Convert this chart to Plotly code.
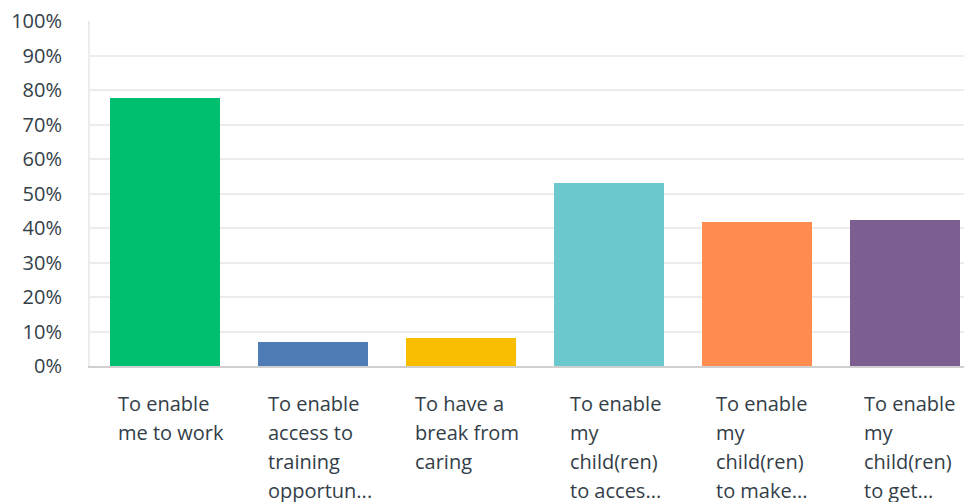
import plotly.graph_objects as go

categories = [
    "To enable me to work",
    "To enable access to training opportun...",
    "To have a break from caring",
    "To enable my child(ren) to acces...",
    "To enable my child(ren) to make...",
    "To enable my child(ren) to get...",
]
label_lines = [
    ["To enable", "me to work"],
    ["To enable", "access to", "training", "opportun..."],
    ["To have a", "break from", "caring"],
    ["To enable", "my", "child(ren)", "to acces..."],
    ["To enable", "my", "child(ren)", "to make..."],
    ["To enable", "my", "child(ren)", "to get..."],
]
values = [77.7, 7.0, 8.1, 53.0, 41.7, 42.3]
colors = ["#00bf6f", "#507cb6", "#f9be00", "#6bc8cd", "#ff8b4f", "#7d5e90"]
y_ticks = list(range(0, 101, 10))
y_tick_labels = [f"{v}%" for v in y_ticks]

FONT = "Open Sans"
TEXT_COLOR = "#333e48"
label_xshift = [-49, -47, -48, -41, -43, -43]

fig = go.Figure()
fig.add_trace(go.Bar(
    x=list(range(len(categories))),
    y=values,
    marker=dict(color=colors, line=dict(width=0)),
    width=0.743,
    hovertext=categories,
    showlegend=False,
))

annotations = []
for i, lines in enumerate(label_lines):
    for j, line in enumerate(lines):
        annotations.append(dict(
            x=i, xref="x", y=0, yref="paper",
            text=line, showarrow=False,
            xanchor="left", yanchor="top",
            xshift=label_xshift[i], yshift=-22 - 29 * j,
            align="left",
            font=dict(family=FONT, size=20, color=TEXT_COLOR),
        ))

fig.update_layout(
    width=964, height=494,
    margin=dict(l=82, r=0, t=13, b=136, autoexpand=False),
    paper_bgcolor="white", plot_bgcolor="white",
    annotations=annotations,
    bargap=0,
    xaxis=dict(
        range=[-0.507, 5.453],
        showticklabels=False, ticks="",
        showgrid=False, zeroline=False, automargin=False,
        showline=True, linecolor="#d0d0d0", linewidth=2,
    ),
    yaxis=dict(
        range=[0, 100], automargin=False,
        tickvals=y_ticks, ticktext=y_tick_labels,
        tickfont=dict(family=FONT, size=20, color=TEXT_COLOR),
        ticklabelstandoff=22, ticklabeloverflow="allow",
        showgrid=True, gridcolor="#ececec", gridwidth=2,
        zeroline=False,
        showline=True, linecolor="#ececec", linewidth=2,
    ),
)

fig.write_html("out.html")
